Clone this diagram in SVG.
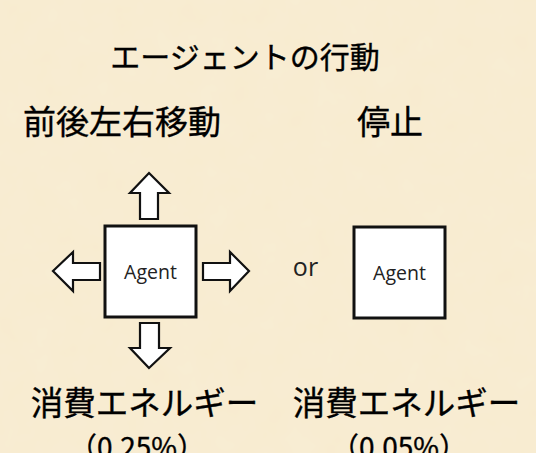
<svg xmlns="http://www.w3.org/2000/svg" width="536" height="453" viewBox="0 0 536 453">
<defs>
<filter id="tex" x="0" y="0" width="100%" height="100%">
<feTurbulence type="fractalNoise" baseFrequency="0.035" numOctaves="3" seed="4" result="n"/>
<feColorMatrix in="n" type="matrix" values="0 0 0 0 0.95  0 0 0 0 0.88  0 0 0 0 0.72  0 0 0 0.35 0"/>
</filter>
</defs>
<style>
.jp{font-family:"Noto Sans CJK JP","Noto Sans",sans-serif;fill:#000;stroke:#000;stroke-width:0.35;}
.lat{font-family:"Open Sans","Liberation Sans",sans-serif;fill:#222;}
.box{fill:#fff;stroke:#111;stroke-width:3;}
.arr{fill:#fff;stroke:#111;stroke-width:2.2;stroke-linejoin:miter;}
</style>
<rect width="536" height="453" fill="#f8ebcf"/>
<rect width="536" height="453" filter="url(#tex)"/>
<text class="jp" x="245" y="68" font-size="30" text-anchor="middle">エージェントの行動</text>
<text class="jp" x="122" y="134" font-size="33" text-anchor="middle">前後左右移動</text>
<text class="jp" x="390" y="134" font-size="33" text-anchor="middle">停止</text>
<g id="move-arrows">
<polygon class="arr" points="149,173 169,193 158,193 158,219 140,219 140,193 130,193"/>
<polygon class="arr" points="149,368 130,348 140,348 140,323 159,323 159,348 170,348"/>
<polygon class="arr" points="53,271 73,252 73,263 100,263 100,280 73,280 73,291"/>
<polygon class="arr" points="249,271 230,252 230,263 203,263 203,280 230,280 230,291"/>
</g>
<g id="agent-move">
<rect class="box" x="105" y="226" width="91" height="91"/>
<text class="lat" x="150.5" y="279" font-size="19.5" text-anchor="middle">Agent</text>
</g>
<text class="lat" x="305.5" y="276" font-size="25" text-anchor="middle">or</text>
<g id="agent-stop">
<rect class="box" x="354" y="227" width="91" height="91"/>
<text class="lat" x="399.5" y="280" font-size="19.5" text-anchor="middle">Agent</text>
</g>
<text class="jp" x="144.5" y="415" font-size="32.5" text-anchor="middle">消費エネルギー</text>
<text class="jp" x="406.5" y="415" font-size="32.5" text-anchor="middle">消費エネルギー</text>
<text class="jp" x="137" y="458" font-size="28" text-anchor="middle">（0.25%）</text>
<text class="jp" x="399" y="458" font-size="28" text-anchor="middle">（0.05%）</text>
</svg>
